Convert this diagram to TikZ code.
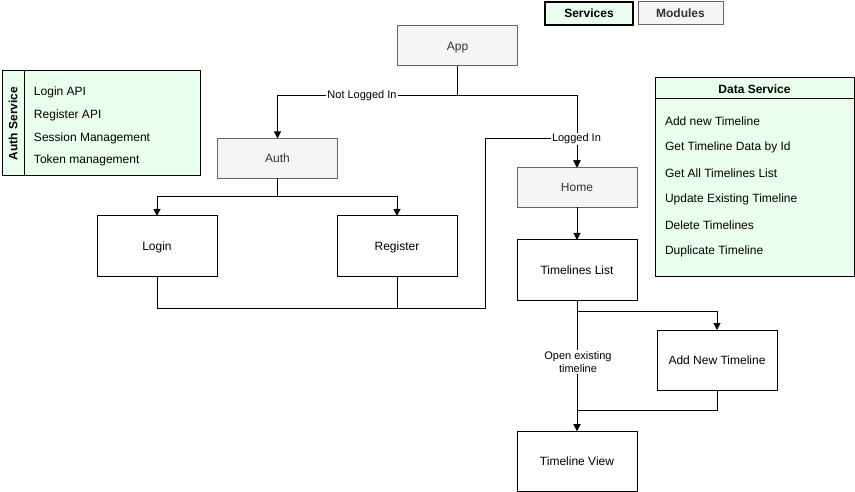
\documentclass[tikz,border=0pt]{standalone}
\usepackage{fontspec}
\setmainfont{Liberation Sans}
\usetikzlibrary{arrows.meta}
\definecolor{gfill}{HTML}{EBFFEE}
\definecolor{pfill}{HTML}{F5F5F5}
\definecolor{pline}{HTML}{666666}
\definecolor{ptext}{HTML}{333333}
\begin{document}
\begin{tikzpicture}[x=1pt,y=-1pt,
  every node/.style={inner sep=0pt,outer sep=0pt},
  txt/.style={font=\fontsize{12}{14}\selectfont},
  boxw/.style={draw=black,line width=1pt,fill=white,minimum width=120pt,minimum height=60pt,txt,text height=9.5pt,text depth=0.5pt},
  boxg/.style={draw=pline,line width=1pt,fill=pfill,text=ptext,minimum width=120pt,minimum height=40pt,txt,text height=9.5pt,text depth=0.5pt},
  lab/.style={fill=white,font=\fontsize{11}{13}\selectfont,inner sep=1pt,align=center},
  item/.style={anchor=west,txt},
  conn/.style={line width=1pt,-{Triangle[width=7pt,length=7pt]}},
  plain/.style={line width=1pt}]
\useasboundingbox (0,0) rectangle (855,492);
% tabs
\node[draw=black,line width=1.3pt,fill=gfill,minimum width=88pt,minimum height=23pt,font=\fontsize{12}{14}\selectfont\bfseries] (services) at (589,13.5) {Services};
\node[draw=pline,line width=1pt,fill=pfill,text=ptext,minimum width=85pt,minimum height=23pt,font=\fontsize{12}{14}\selectfont\bfseries] (modules) at (680.5,13.5) {Modules};
% auth service panel
\node[draw=black,line width=1pt,fill=gfill,minimum width=198pt,minimum height=105pt] (authsvc) at (101,123.5) {};
\draw[line width=1pt] (24,71) -- (24,176);
\node[rotate=90,font=\fontsize{12}{14}\selectfont\bfseries] (authtitle) at (13,123.5) {Auth Service};
\node[item] (a1) at (34,92) {Login API};
\node[item] (a2) at (34,115) {Register API};
\node[item] (a3) at (34,138) {Session Management};
\node[item] (a4) at (34,160) {Token management};
% data service panel
\node[draw=black,line width=1pt,fill=gfill,minimum width=199pt,minimum height=198pt] (datasvc) at (754.5,177) {};
\draw[line width=1pt] (655,99) -- (854,99);
\node[font=\fontsize{12}{14}\selectfont\bfseries] (datatitle) at (754.5,89) {Data Service};
\node[item] (d1) at (665,121) {Add new Timeline};
\node[item] (d2) at (665,147) {Get Timeline Data by Id};
\node[item] (d3) at (665,173) {Get All Timelines List};
\node[item] (d4) at (665,199) {Update Existing Timeline};
\node[item] (d5) at (665,225) {Delete Timelines};
\node[item] (d6) at (665,251) {Duplicate Timeline};
% nodes
\node[boxg] (app) at (457.5,46) {App};
\node[boxg] (auth) at (277.5,158.5) {Auth};
\node[boxg] (home) at (577,187.5) {Home};
\node[boxw] (login) at (157,246) {Login};
\node[boxw] (register) at (397,246) {Register};
\node[boxw] (tlist) at (577,270) {Timelines List};
\node[boxw] (addnew) at (717,360) {Add New Timeline};
\node[boxw] (tview) at (577,461) {Timeline View};
% connectors
\draw[conn] (app.south) -- (457.5,96) -- (277.5,96) -- (auth.north);
\node[lab] (l1) at (362,96) {Not Logged In};
\draw[conn] (app.south) -- (457.5,96) -- (577,96) -- (home.north);
\draw[conn] (auth.south) -- (277.5,197) -- (157,197) -- (login.north);
\draw[conn] (auth.south) -- (277.5,197) -- (397,197) -- (register.north);
\draw[conn] (login.south) -- (157,308) -- (485,308) -- (485,139) -- (577,139) -- (home.north);
\draw[plain] (register.south) -- (397,308);
\node[lab,anchor=west] (l2) at (551,139) {Logged In};
\draw[conn] (home.south) -- (tlist.north);
\draw[conn] (tlist.south) -- (577,311) -- (717,311) -- (addnew.north);
\draw[conn] (tlist.south) -- (tview.north);
\node[lab] (l3) at (578,362) {Open existing\\timeline};
\draw[conn] (addnew.south) -- (717,410) -- (577,410) -- (tview.north);
\end{tikzpicture}
\end{document}
